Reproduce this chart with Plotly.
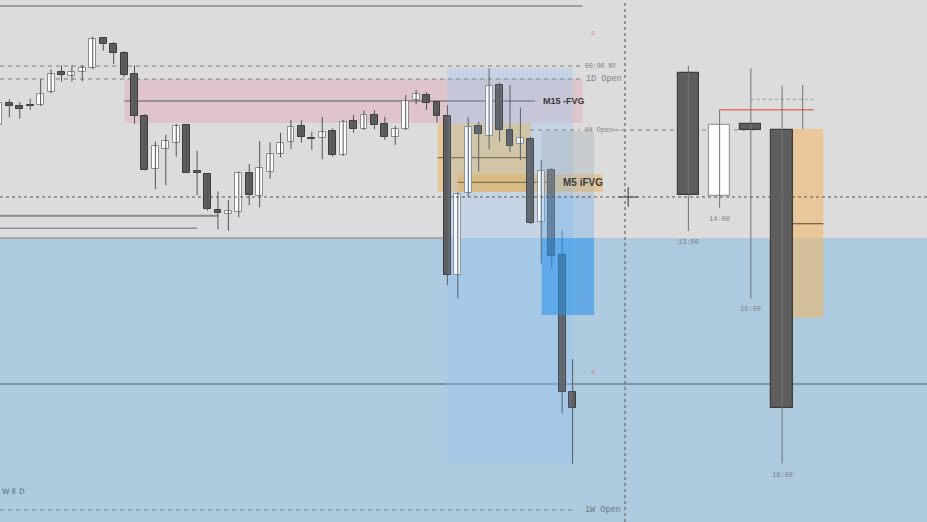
import plotly.graph_objects as go

# ---------------- data (prices in chart points) ----------------
M5_INDEX = list(range(56))
M5_OPEN = [397, 418.7, 416, 417, 417.3, 430, 450.3, 446, 450.3, 453.7,
           484.3, 478, 469.3, 447.7, 406.3, 352.7, 373.3, 379.3, 396.7, 350.7,
           347.7, 312, 308.3, 309.7, 349.3, 325.7, 350.3, 368, 380.3, 396,
           384.5, 384, 391.3, 367, 401.3, 392.7, 406.7, 397.7, 384.7, 393.3,
           422, 427, 420.3, 406.3, 247, 328.7, 396, 386, 437, 392,
           378, 382.7, 299.7, 352, 267, 130.3]
M5_HIGH = [422, 422.7, 420, 423.3, 443, 452.7, 456.7, 456.7, 456.7, 485.3,
           484.7, 480, 471, 456.7, 408, 380.3, 387.3, 398, 397.3, 371.3,
           348.7, 330.7, 322, 350.3, 358, 381, 379.7, 389.3, 402, 402,
           390.3, 405.3, 393.7, 402, 407, 411.3, 412, 405.3, 396, 427,
           432, 429.7, 421.3, 417, 329.7, 404.7, 400.3, 453.7, 439.3, 437,
           414.3, 385.3, 362, 354.3, 292, 163]
M5_LOW = [392, 404.7, 403.3, 412, 416, 428.7, 440.3, 440.3, 440.7, 452.7,
          471.3, 458, 444.7, 398, 351.3, 332.7, 336.7, 365.3, 349.3, 327,
          311.3, 292.7, 291.3, 304.7, 316.7, 314.7, 343.3, 364.7, 373, 379.3,
          372, 362.7, 365.3, 366, 389.3, 392, 392.7, 382, 377, 392,
          417.7, 412, 399.3, 237, 223.7, 325.3, 350.3, 372.7, 380.3, 370,
          362, 298, 258.7, 253.7, 108.7, 58]
M5_CLOSE = [419, 416, 413.3, 416, 428, 448, 446.7, 450, 454, 483,
            477.7, 468.7, 447.3, 406, 352, 376.3, 380.7, 396.3, 349.3, 349.3,
            313.3, 308.7, 310.7, 349, 326.7, 354.3, 368, 379.3, 395.3, 385.3,
            383, 389.7, 367, 399.7, 393.3, 407, 396.7, 385.3, 393.3, 420.7,
            427.7, 419.3, 406, 247, 327.7, 394.7, 388, 436, 392, 376.3,
            384.3, 299.3, 351, 266, 129.7, 113.7]

H1_HOURS = [13, 14, 15, 16]
H1_LABELS = ["13:00", "14:00", "15:00", "16:00"]
H1_OPEN = [448.7, 326.3, 397.7, 392]
H1_HIGH = [456.3, 412.3, 453.7, 436.3]
H1_LOW = [291, 314.3, 223.7, 58.7]
H1_CLOSE = [326.7, 397, 391.7, 114.3]
H1_LABEL_PRICE = [279.7, 302.7, 212.7, 47]

# levels / zones (prices)
LVL_TOP = 516
LVL_NY = 456
LVL_1D = 443
LVL_4H = 392
LVL_CROSS = 325
LVL_A = 306.3
LVL_B = 293.7
LVL_BLUE_TOP = 284
LVL_LOW = 138
LVL_1W = 12
M15_FVG = (399, 443, 421)
M5_BIG = (330.3, 398.7, 364.3)
M5_IFVG = (330.3, 347.7, 339.7)
TARGET_BOX = (59, 454)
STOP = (327, 391)
TARGET = (207, 327)
H1_ZONE = (204.3, 393, 298.3)
H1_RED = 412.3
H1_DOT = 422.7
H1_NEXT_WICK = (393, 437)

fig = go.Figure()

# ---------------- M5 candles ----------------
wx, wy = [], []
for k, h, l in zip(M5_INDEX, M5_HIGH, M5_LOW):
    wx += [k, k, None]
    wy += [l, h, None]
fig.add_trace(go.Scatter(x=wx, y=wy, mode="lines", line=dict(color="#505458", width=1),
                         hoverinfo="skip"))
bases = [min(o, c) for o, c in zip(M5_OPEN, M5_CLOSE)]
hts = [max(abs(c - o), 1.2) for o, c in zip(M5_OPEN, M5_CLOSE)]
bull = [c >= o for o, c in zip(M5_OPEN, M5_CLOSE)]
fig.add_trace(go.Bar(x=M5_INDEX, y=hts, base=bases, width=0.66,
                     marker=dict(color=["#ffffff" if b else "#5e5e5e" for b in bull],
                                 line=dict(color=["#8c8c8c" if b else "#3c3c3c" for b in bull], width=1)),
                     hoverinfo="skip"))

# ---------------- H1 candles ----------------
hx, hy = [], []
for t, h, l in zip(H1_HOURS, H1_HIGH, H1_LOW):
    hx += [t, t, None]
    hy += [l, h, None]
hx += [16.66, 16.66, None]
hy += [H1_NEXT_WICK[0], H1_NEXT_WICK[1], None]
fig.add_trace(go.Scatter(x=hx, y=hy, xaxis="x2", yaxis="y", mode="lines",
                         line=dict(color="#707478", width=1), hoverinfo="skip"))
hb = [min(o, c) for o, c in zip(H1_OPEN, H1_CLOSE)]
hh = [max(abs(c - o), 1.2) for o, c in zip(H1_OPEN, H1_CLOSE)]
hbull = [c >= o for o, c in zip(H1_OPEN, H1_CLOSE)]
fig.add_trace(go.Bar(x=H1_HOURS, y=hh, base=hb, width=0.68, xaxis="x2", yaxis="y",
                     marker=dict(color=["#ffffff" if b else "#5e5e5e" for b in hbull],
                                 line=dict(color=["#9a9a9a" if b else "#3c3c3c" for b in hbull], width=1.2)),
                     hoverinfo="skip"))

# crosshair marker
fig.add_trace(go.Scatter(x=[60.33], y=[LVL_CROSS], mode="markers",
                         marker=dict(symbol="cross-thin", size=14, line=dict(color="#333", width=1)),
                         hoverinfo="skip"))

shapes = []
def rect(x0, x1, y0, y1, color, xref="x", layer="below"):
    shapes.append(dict(type="rect", xref=xref, yref="y", x0=x0, x1=x1, y0=y0, y1=y1,
                       fillcolor=color, line=dict(width=0), layer=layer))
def hline(x0, x1, y, color, width=1, dash="solid", xref="x", layer="below"):
    shapes.append(dict(type="line", xref=xref, yref="y", x0=x0, x1=x1, y0=y, y1=y,
                       line=dict(color=color, width=width, dash=dash), layer=layer))

# background blue region
rect(0, 1, 0, LVL_BLUE_TOP, "#adcadf", xref="paper")
# zones
rect(12.04, 55.97, M15_FVG[0], M15_FVG[1], "rgba(230,160,175,0.38)")
rect(42.96, 55.04, TARGET_BOX[0], TARGET_BOX[1], "rgba(150,200,245,0.24)")
rect(42.07, 50.99, M5_BIG[0], M5_BIG[1], "rgba(240,170,60,0.42)")
rect(44.0, 57.9, M5_IFVG[0], M5_IFVG[1], "rgba(240,170,60,0.42)")
rect(16.34, 17.32, H1_ZONE[0], H1_ZONE[1], "rgba(245,180,90,0.52)", xref="x2")

# lines
dash = "4px,4px"
hline(0.1, 55.95, LVL_TOP, "#8a8a8a", 1.5)
hline(0.1, 55.9, LVL_NY, "#7a7a7a", 1, dash)
hline(0.1, 55.9, LVL_1D, "#7a7a7a", 1, dash)
hline(12.04, 51.4, M15_FVG[2], "#5a5a5a", 1)
hline(50.92, 55.71, LVL_4H, "#7a7a7a", 1, dash)
hline(58.97, 72.5, LVL_4H, "#7a7a7a", 1, dash)
hline(42.07, 50.99, M5_BIG[2], "#7d6a4e", 1.2)
hline(44.0, 53.3, M5_IFVG[2], "#7d6a4e", 1.2)
hline(0.1, 21.0, LVL_A, "#8a8a8a", 2)
hline(0.1, 19.0, LVL_B, "#8f8f8f", 1.5)
hline(0.1, 42.86, LVL_BLUE_TOP, "#9a9a9a", 1.5)
hline(0, 1, LVL_LOW, "#4d6070", 1.2, xref="paper")
hline(0.1, 55.04, LVL_1W, "#6f8090", 1, dash)
hline(16.34, 17.32, H1_ZONE[2], "#6e5e48", 1.2, xref="x2")
hline(14, 17, H1_RED, "#e2735f", 1.5, xref="x2")
hline(15, 17, H1_DOT, "#9a9a9a", 1, "dot", xref="x2")

# overlays above candles
rect(42.96, 55.04, TARGET_BOX[0], TARGET_BOX[1], "rgba(150,200,245,0.12)", layer="above")
rect(52.04, 57.06, STOP[0], STOP[1], "rgba(160,168,178,0.30)", layer="above")
rect(52.04, 57.06, LVL_BLUE_TOP, TARGET[1], "rgba(110,175,235,0.40)", layer="above")
rect(52.04, 57.06, TARGET[0], LVL_BLUE_TOP, "rgba(40,145,235,0.55)", layer="above")

# crosshair
hline(0, 1, LVL_CROSS, "#555555", 1, "3px,3px", xref="paper", layer="above")
shapes.append(dict(type="line", xref="paper", yref="paper", x0=625/927, x1=625/927, y0=0, y1=1,
                   line=dict(color="#7c7c7c", width=1.5, dash="dot"), layer="above"))

anns = []
def text(x, y, s, size=8, color="#777", xref="x", family="Liberation Mono", xanchor="left",
         bold=False):
    anns.append(dict(x=x, y=y, xref=xref, yref="y", text=f"<b>{s}</b>" if bold else s,
                     showarrow=False, xanchor=xanchor, yanchor="middle",
                     font=dict(size=size, color=color, family=family)))

text(55.96, LVL_NY, "00:00 NY", 6.5, "#808080")
text(56.1, LVL_1D, "1D Open", 8.5, "#808080")
text(55.9, LVL_4H, "4H Open -", 7, "#808080")
text(56.0, LVL_1W, "1W Open", 8.5, "#6a7a88")
text(51.95, M15_FVG[2], "M15 -FVG", 9, "#3a3a3a", family="Liberation Sans", bold=True)
text(53.9, M5_IFVG[2], "M5 iFVG", 10, "#3a3a3a", family="Liberation Sans", bold=True)
text(55.9, 489, "- 0", 6, "#e07a6a")
text(55.9, 149.5, "- 0", 6, "#e07a6a")
for t, lab, p in zip(H1_HOURS, H1_LABELS, H1_LABEL_PRICE):
    text(t, p, lab, 7, "#7a8088", xref="x2", xanchor="center")
anns.append(dict(x=0, y=31, xref="paper", yref="y", text="W E D", showarrow=False,
                 xanchor="left", yanchor="middle",
                 font=dict(size=7.5, color="#5a6e80", family="DejaVu Sans")))

fig.update_layout(
    width=927, height=522, autosize=False,
    margin=dict(l=0, r=0, t=0, b=0, pad=0),
    paper_bgcolor="#dcdcdc", plot_bgcolor="#dcdcdc",
    showlegend=False, barmode="overlay", bargap=0,
    xaxis=dict(range=[0.105, 88.98], visible=False, fixedrange=True),
    xaxis2=dict(range=[-9.04, 20.64], overlaying="x", visible=False, fixedrange=True),
    yaxis=dict(range=[0, 522], visible=False, fixedrange=True),
    shapes=shapes, annotations=anns,
)

fig.write_html("out.html", config={"displayModeBar": False},
               post_script="document.body.style.margin='0';document.body.style.overflow='hidden';")
